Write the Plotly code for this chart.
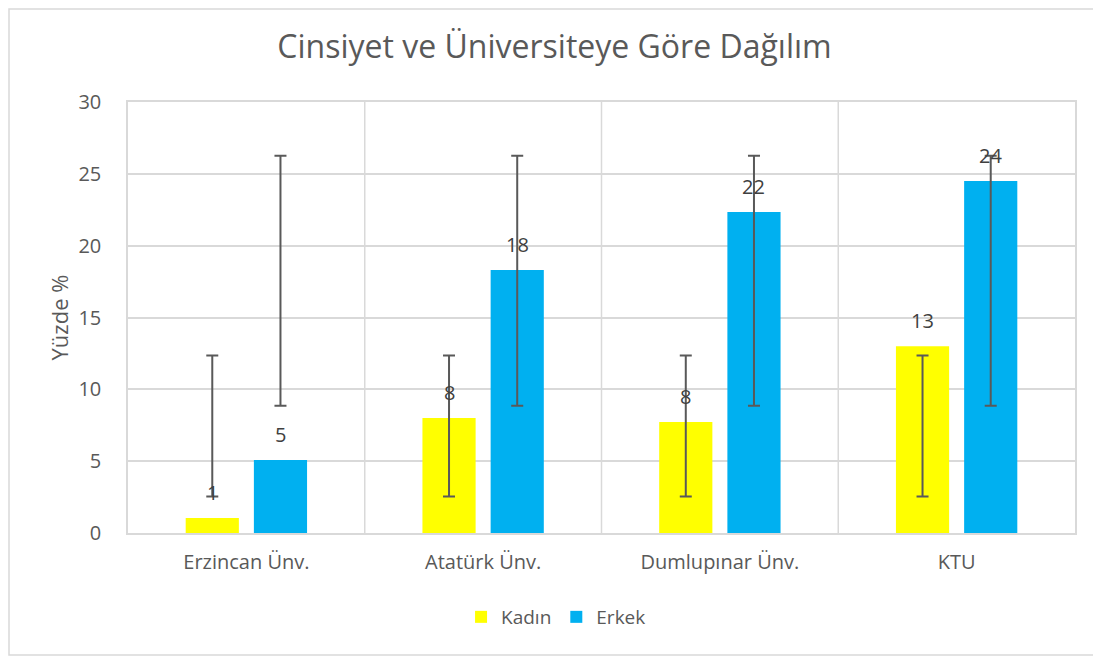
import numpy as np
import plotly.graph_objects as go

# Data
universities = ['Erzincan Ünv.', 'Atatürk Ünv.', 'Dumlupınar Ünv.', 'KTU']
kadin = [1.04, 8.0, 7.72, 13.0]
erkek = [5.08, 18.3, 22.34, 24.5]
kadin_labels = ['1', '8', '8', '13']
erkek_labels = ['5', '18', '22', '24']

# Excel-style standard deviation error bars: centred on the series mean
k_mean, k_sd = np.mean(kadin), np.std(kadin, ddof=1)
e_mean, e_sd = np.mean(erkek), np.std(erkek, ddof=1)

YELLOW = '#FFFF00'
BLUE = '#00B0F0'
GREY = '#595959'
GRID = '#D9D9D9'
FONT = 'Open Sans'

# page body has an 8px margin, so the figure is drawn 8px in from the corner
W, H = 1093, 649
L, T, R, B = 120, 94, 26, 124
PW, PH = W - L - R, H - T - B

fig = go.Figure()

fig.add_trace(go.Bar(name='Kadın', x=universities, y=kadin, offsetgroup='k',
                     marker=dict(color=YELLOW, line=dict(width=0)), hoverinfo='skip'))
fig.add_trace(go.Bar(name='Erkek', x=universities, y=erkek, offsetgroup='e',
                     marker=dict(color=BLUE, line=dict(width=0)), hoverinfo='skip'))

# invisible bars carrying the error bars
for mean, sd, grp in [(k_mean, k_sd, 'k'), (e_mean, e_sd, 'e')]:
    fig.add_trace(go.Bar(x=universities, y=[mean] * len(universities), offsetgroup=grp,
                         marker=dict(color='rgba(0,0,0,0)', line=dict(width=0)),
                         error_y=dict(type='constant', value=sd, color=GREY,
                                      thickness=2, width=6),
                         showlegend=False, hoverinfo='skip'))

# data labels above bars
for vals, labels, shift in [(kadin, kadin_labels, -34), (erkek, erkek_labels, 34)]:
    for u, v, t in zip(universities, vals, labels):
        fig.add_annotation(x=u, y=v, text=t, showarrow=False, xshift=shift, yshift=26,
                           yanchor='middle', font=dict(size=20, color='#404040', family=FONT))

# outer chart border
fig.add_shape(type='rect', xref='paper', yref='paper',
              x0=-(L - 1) / PW, x1=(PW + R + 10) / PW,
              y0=-(B - 2) / PH, y1=(PH + T - 1) / PH,
              line=dict(color=GRID, width=1.5), layer='below')

fig.update_layout(
    width=W, height=H,
    margin=dict(l=L, r=R, t=T, b=B),
    paper_bgcolor='white', plot_bgcolor='white',
    barmode='group', bargap=0.424, bargroupgap=0.22,
    title=dict(text='Cinsiyet ve Üniversiteye Göre Dağılım', x=0.5, xref='container',
               xanchor='center', y=1 - 39 / H, yanchor='middle',
               font=dict(size=32, color=GREY, family=FONT)),
    font=dict(family=FONT, color=GREY),
    legend=dict(orientation='h', x=0.452, xanchor='center', y=-(609 - 525) / PH,
                yanchor='middle', font=dict(size=19, color=GREY, family=FONT),
                itemwidth=30, traceorder='normal'),
    showlegend=True,
)

fig.update_yaxes(range=[0, 30], dtick=5, showgrid=True, gridcolor=GRID, gridwidth=1.5,
                 zeroline=False, showline=True, linecolor=GRID, linewidth=1.5, mirror=True,
                 ticks='', ticklabelstandoff=21, tickfont=dict(size=20, color=GREY),
                 title=dict(text='Yüzde %', font=dict(size=22, color=GREY), standoff=4))

fig.update_xaxes(showgrid=False, showline=True, linecolor=GRID, linewidth=1.5, mirror=True,
                 ticks='', tickfont=dict(size=20, color=GREY), ticklabelstandoff=10)

# vertical separators between categories, like Excel's vertical gridlines
for i in range(1, len(universities)):
    fig.add_shape(type='line', xref='x', yref='paper', x0=i - 0.5, x1=i - 0.5, y0=0, y1=1,
                  line=dict(color=GRID, width=1.5), layer='below')

fig.write_html("out.html")
